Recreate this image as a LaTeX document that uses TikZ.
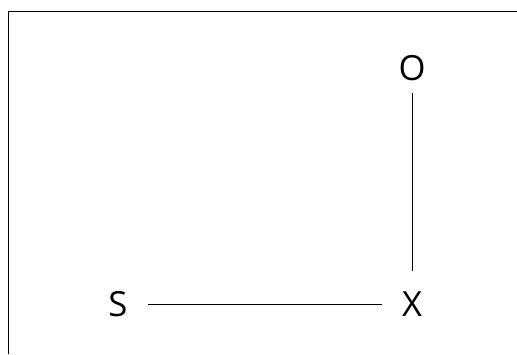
\documentclass[tikz,border=0pt]{standalone}
\usepackage{fontspec}
\setmainfont{Open Sans}
\usetikzlibrary{positioning}

\begin{document}
\begin{tikzpicture}[
        x=0.75pt, y=-0.75pt,
        v/.style={inner sep=9pt, font=\fontsize{26}{28}\selectfont},
        rel/.style={line width=0.75pt}
    ]
        \useasboundingbox (0,0) rectangle (517,354);
        \draw[line width=0.75pt] (8,354) -- (8,11.5) -- (517,11.5);
        \node[v] (s) at (118,304) {S};
        \node[v] (x) at (412,304) {X};
        \node[v] (o) at (412,68) {O};
        \draw[rel, shorten <=6pt, shorten >=6pt] (s) -- (x);
        \draw[rel, shorten >=6pt] (o) -- (x);
    \end{tikzpicture}
\end{document}
